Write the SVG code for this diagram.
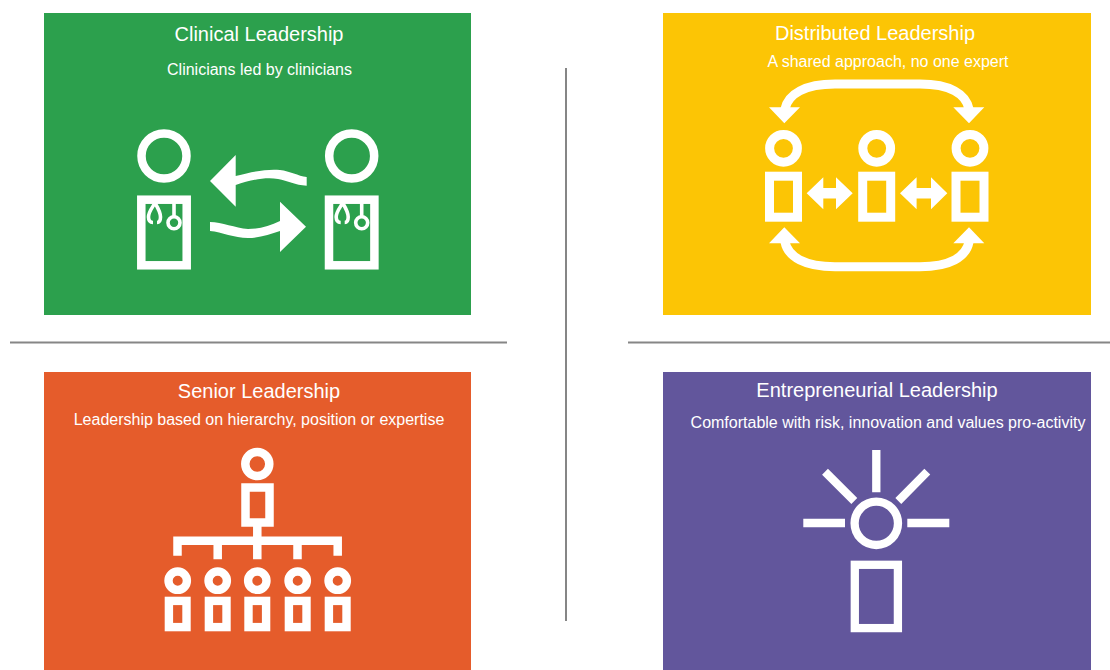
<svg xmlns="http://www.w3.org/2000/svg" width="1110" height="670" viewBox="0 0 1110 670">
<style>
.title{font:20px "Liberation Sans",Arial,sans-serif;fill:#fff;text-anchor:middle}
.sub{font:16px "Liberation Sans",Arial,sans-serif;fill:#fff;text-anchor:middle}
.o{fill:none;stroke:#fff}
.f{fill:#fff}
.rule{stroke:#868686;stroke-width:2;fill:none}
</style>
<rect width="1110" height="670" fill="#fff"/>
<g id="rules">
<path class="rule" d="M10 342.500H507M628 342.500H1110M566 68V621"/>
</g>
<g id="clinical">
<rect x="44" y="13" width="427" height="302" fill="#2ca04d"/>
<text class="title" x="259" y="41">Clinical Leadership</text>
<text class="sub" x="259.500" y="75">Clinicians led by clinicians</text>
<g class="o" stroke-width="8.500">
<circle cx="164" cy="156" r="22.500"/><circle cx="351.700" cy="156" r="22.500"/>
<rect x="141.300" y="199.700" width="45.400" height="65.600"/><rect x="329" y="199.700" width="45.400" height="65.600"/>
</g>
<g id="steth-l" class="o" stroke-width="3.600">
<path d="M174 203V216"/><circle cx="174" cy="222.700" r="6"/>
<path d="M155 203C152 208 148.500 212 148.500 217C148.500 221 150 222.500 153 222.500M155 203C158 208 160.500 212 160.500 217C160.500 220 159.500 222.500 157 222.500"/>
</g>
<g id="steth-r" class="o" stroke-width="3.600">
<path d="M361.700 203V216"/><circle cx="361.700" cy="222.700" r="6"/>
<path d="M342.700 203C339.700 208 336.200 212 336.200 217C336.200 221 337.700 222.500 340.700 222.500M342.700 203C345.700 208 348.200 212 348.200 217C348.200 220 347.200 222.500 344.700 222.500"/>
</g>
<path class="f" d="M210 181L235.700 155V176C255 171 268 169 280 170C290 171 298 176 306.700 177V185.700C295 185 288 181 278 179C265 177 250 180 235.700 185V206.700Z"/>
<path class="f" d="M306 226.700L280 201.700V221C270 226 260 229 248 229C235 228 222 222 210 222V231C222 232 234 238 248 238C260 238 270 234 280 231V252Z"/>
</g>
<g id="distributed">
<rect x="663" y="13" width="428" height="302" fill="#fcc505"/>
<text class="title" x="875" y="40">Distributed Leadership</text>
<text class="sub" x="888" y="67">A shared approach, no one expert</text>
<g class="o" stroke-width="9">
<circle cx="783.500" cy="148.300" r="13.900"/><circle cx="876.700" cy="148.300" r="13.900"/><circle cx="970" cy="148.300" r="13.900"/>
<rect x="769.500" y="176.200" width="28" height="41"/><rect x="862.700" y="176.200" width="28" height="41"/><rect x="956" y="176.200" width="28" height="41"/>
<path d="M785 109C788 94 805 84 835 84H920C950 84 966 94 969 109"/>
<path d="M785 242C788 257 805 266.700 835 266.700H920C950 266.700 966 257 969 242"/>
</g>
<path class="f" d="M784.300 123.300L769 107.300H800ZM969 123.300L953.300 107.300H984.300ZM784.300 227.300L769 243.300H800ZM969 227.300L953.300 243.300H984.300Z"/>
<path class="f" d="M806.700 193.300L823.300 177.300V188H836V177.300L852.700 193.300L836 209.300V198.600H823.300V209.300ZM900 193.300L916.600 177.300V188H931V177.300L947.300 193.300L931 209.300V198.600H916.600V209.300Z"/>
</g>
<g id="senior">
<rect x="44" y="372" width="427" height="298" fill="#e55c2b"/>
<text class="title" x="259" y="398">Senior Leadership</text>
<text class="sub" x="259" y="425">Leadership based on hierarchy, position or expertise</text>
<g class="o" stroke-width="8.500">
<circle cx="257.300" cy="464" r="12"/>
<rect x="245.500" y="487.500" width="24" height="35"/>
<path d="M177.500 555.700V540.800H337.700V555.700M217.700 540.800V559.300M297.500 540.800V559.300M257.300 526V559.300"/>
<g id="small" stroke-width="8.400">
<circle cx="177.700" cy="580.700" r="9.200"/><circle cx="217.700" cy="580.700" r="9.200"/><circle cx="257.300" cy="580.700" r="9.200"/><circle cx="297.700" cy="580.700" r="9.200"/><circle cx="337.700" cy="580.700" r="9.200"/>
<rect x="168.900" y="600.900" width="17.600" height="26.200"/><rect x="208.900" y="600.900" width="17.600" height="26.200"/><rect x="248.500" y="600.900" width="17.600" height="26.200"/><rect x="288.900" y="600.900" width="17.600" height="26.200"/><rect x="328.900" y="600.900" width="17.600" height="26.200"/>
</g>
</g>
</g>
<g id="entrepreneurial">
<rect x="663" y="372" width="428" height="298" fill="#62569c"/>
<text class="title" x="877" y="397">Entrepreneurial Leadership</text>
<text class="sub" x="888" y="428">Comfortable with risk, innovation and values pro-activity</text>
<g class="o" stroke-width="8.300">
<circle cx="876.300" cy="523.300" r="21.700"/>
<rect x="854.800" y="564.800" width="43.100" height="63.300"/>
<path d="M876.300 450V492.300M803.300 523H845M907.300 523H949.300M825 471.700L854.300 501M927.300 471.700L898.300 501"/>
</g>
</g>
</svg>
